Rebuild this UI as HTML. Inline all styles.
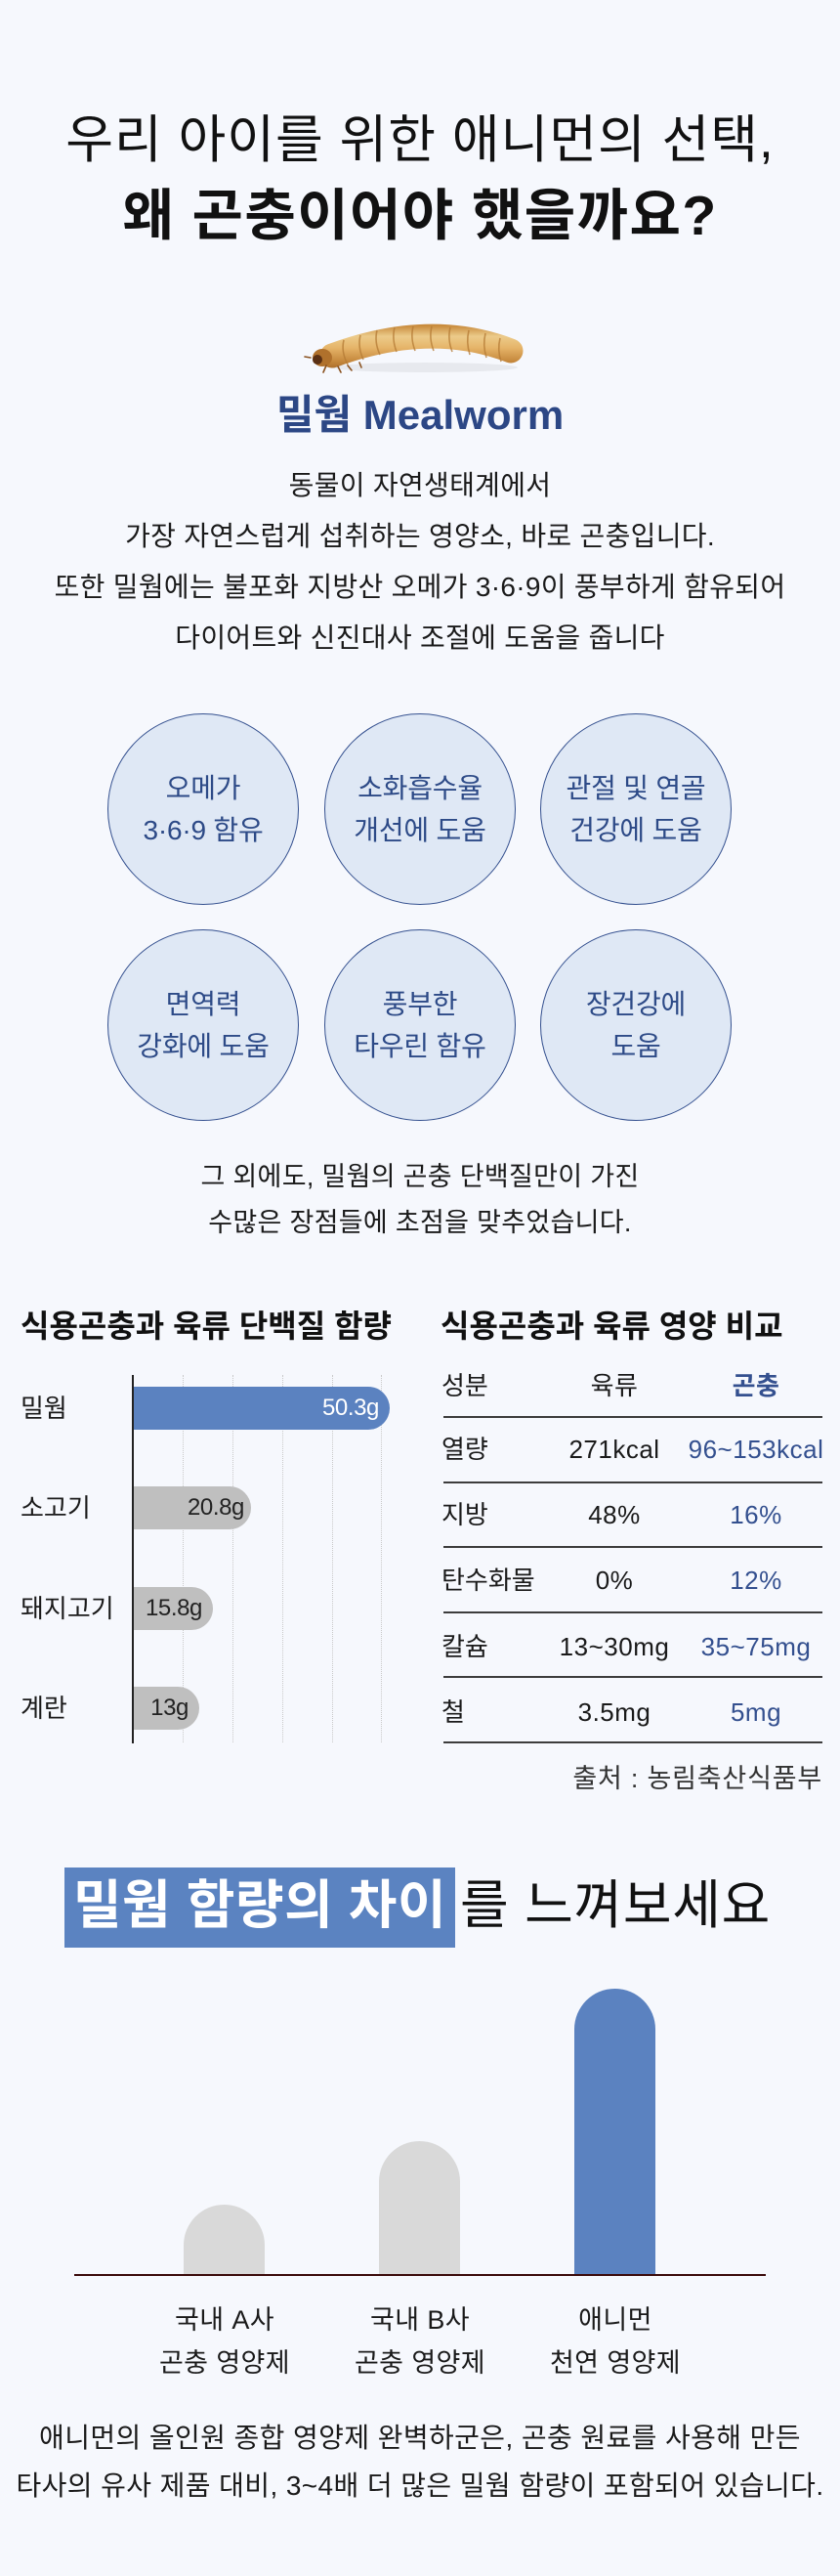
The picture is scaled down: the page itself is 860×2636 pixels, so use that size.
<!DOCTYPE html>
<html lang="ko">
<head>
<meta charset="utf-8">
<style>
*{margin:0;padding:0;box-sizing:border-box;}
html,body{width:860px;height:2636px;background:#f6f8fd;overflow:hidden;}
body{position:relative;font-family:"Liberation Sans","Noto Sans CJK KR",sans-serif;color:#1a1a1a;}
.abs{position:absolute;white-space:nowrap;}
.c{left:0;width:860px;text-align:center;}
.circle{position:absolute;width:196px;height:196px;border-radius:50%;background:#dfe8f5;border:1.3px solid #34508f;display:flex;align-items:center;justify-content:center;text-align:center;color:#2d4a87;font-size:28px;line-height:43px;letter-spacing:-0.2px;}
.grid{position:absolute;top:1407px;height:376px;width:0;border-left:1px dotted #c9c9c9;}
.bar{position:absolute;height:44px;border-radius:0 22px 22px 0;display:flex;align-items:center;justify-content:flex-end;font-size:24px;letter-spacing:-0.4px;}
.rl{position:absolute;left:21px;font-size:26px;line-height:40px;color:#1a1a1a;}
.hl{position:absolute;left:454px;width:388px;height:2px;background:#3d3d3d;}
.t1{position:absolute;left:452px;font-size:26px;line-height:40px;color:#1a1a1a;}
.t2{position:absolute;left:539px;width:180px;text-align:center;font-size:26px;line-height:40px;color:#1a1a1a;letter-spacing:0.5px;}
.t3{position:absolute;left:684px;width:180px;text-align:center;font-size:26px;line-height:40px;color:#34508f;letter-spacing:0.5px;}
.blab{position:absolute;width:220px;text-align:center;font-size:27px;line-height:44px;color:#1a1a1a;letter-spacing:0.4px;}
</style>
</head>
<body>

<!-- Title -->
<div class="abs c" style="top:114px;font-size:53px;line-height:60px;color:#111;letter-spacing:1px;">우리 아이를 위한 애니먼의 선택,</div>
<div class="abs c" style="top:189px;font-size:57px;line-height:64px;font-weight:bold;color:#111;letter-spacing:1.4px;">왜 곤충이어야 했을까요?</div>

<!-- Worm -->
<svg class="abs" style="left:300px;top:320px;" width="260" height="80" viewBox="300 320 260 80">
  <defs>
    <linearGradient id="wg" x1="0" y1="333" x2="0" y2="378" gradientUnits="userSpaceOnUse">
      <stop offset="0" stop-color="#c88a3c"/>
      <stop offset="0.25" stop-color="#eccb8a"/>
      <stop offset="0.5" stop-color="#e6b56a"/>
      <stop offset="0.8" stop-color="#c78a3e"/>
      <stop offset="1" stop-color="#a86a28"/>
    </linearGradient>
  </defs>
  <ellipse cx="435" cy="376" rx="95" ry="5" fill="#000" opacity="0.06"/>
  <path d="M340,364 Q440,327 523,359" fill="none" stroke="url(#wg)" stroke-width="25" stroke-linecap="round"/>
  <g stroke="#b47a34" stroke-width="1.6" fill="none" opacity="0.75">
    <path d="M352,348 Q349,360 356,373"/>
    <path d="M369,343 Q366,355 372,368"/>
    <path d="M386,338 Q383,350 389,363"/>
    <path d="M404,335 Q401,347 406,360"/>
    <path d="M423,334 Q420,346 425,359"/>
    <path d="M442,334 Q439,346 444,359"/>
    <path d="M461,335 Q458,347 463,360"/>
    <path d="M480,338 Q477,350 481,363"/>
    <path d="M497,341 Q494,353 498,366"/>
    <path d="M512,346 Q509,358 513,370"/>
  </g>
  <ellipse cx="330" cy="366" rx="10" ry="9" fill="#b0712c"/>
  <ellipse cx="325" cy="368" rx="5" ry="5" fill="#5a3014"/>
  <g stroke="#8a5220" stroke-width="1.6" stroke-linecap="round">
    <line x1="318" y1="366" x2="312" y2="365"/>
    <line x1="334" y1="374" x2="331" y2="381"/>
    <line x1="346" y1="375" x2="349" y2="381"/>
    <line x1="356" y1="374" x2="360" y2="379"/>
    <line x1="368" y1="371" x2="370" y2="376"/>
  </g>
</svg>

<div class="abs c" style="top:400px;left:0;font-size:42px;line-height:50px;font-weight:bold;color:#2c4785;letter-spacing:0px;">밀웜 Mealworm</div>

<!-- Paragraph -->
<div class="abs c" style="top:471px;font-size:28px;line-height:52px;color:#1a1a1a;letter-spacing:0.3px;white-space:normal;">
동물이 자연생태계에서<br>
가장 자연스럽게 섭취하는 영양소, 바로 곤충입니다.<br>
또한 밀웜에는 불포화 지방산 오메가 3·6·9이 풍부하게 함유되어<br>
다이어트와 신진대사 조절에 도움을 줍니다
</div>

<!-- Circles -->
<div class="circle" style="left:110px;top:730px;">오메가<br>3·6·9 함유</div>
<div class="circle" style="left:332px;top:730px;">소화흡수율<br>개선에 도움</div>
<div class="circle" style="left:553px;top:730px;">관절 및 연골<br>건강에 도움</div>
<div class="circle" style="left:110px;top:951px;">면역력<br>강화에 도움</div>
<div class="circle" style="left:332px;top:951px;">풍부한<br>타우린 함유</div>
<div class="circle" style="left:553px;top:951px;">장건강에<br>도움</div>

<div class="abs c" style="top:1181px;font-size:27px;line-height:47px;color:#1a1a1a;letter-spacing:0.3px;white-space:normal;">
그 외에도, 밀웜의 곤충 단백질만이 가진<br>
수많은 장점들에 초점을 맞추었습니다.
</div>

<!-- Left chart -->
<div class="abs" style="left:21px;top:1337px;font-size:32px;line-height:40px;font-weight:bold;color:#111;">식용곤충과 육류 단백질 함량</div>
<div class="grid" style="left:187px;"></div>
<div class="grid" style="left:238px;"></div>
<div class="grid" style="left:289px;"></div>
<div class="grid" style="left:340px;"></div>
<div class="grid" style="left:390px;"></div>

<div class="bar" style="left:136px;top:1419px;width:263px;background:#5b82c0;color:#fff;padding-right:11px;">50.3g</div>
<div class="bar" style="left:136px;top:1521px;width:121px;background:#bfbfbf;color:#222;padding-right:7px;">20.8g</div>
<div class="bar" style="left:136px;top:1624px;width:82px;background:#bfbfbf;color:#222;padding-right:11px;">15.8g</div>
<div class="bar" style="left:136px;top:1726px;width:68px;background:#bfbfbf;color:#222;padding-right:11px;">13g</div>
<div style="position:absolute;left:135px;top:1407px;width:2px;height:377px;background:#222;"></div>

<div class="rl" style="top:1421px;">밀웜</div>
<div class="rl" style="top:1523px;">소고기</div>
<div class="rl" style="top:1626px;">돼지고기</div>
<div class="rl" style="top:1728px;">계란</div>

<!-- Right table -->
<div class="abs" style="left:451px;top:1337px;font-size:32px;line-height:40px;font-weight:bold;color:#111;">식용곤충과 육류 영양 비교</div>
<div class="t1" style="top:1398px;">성분</div>
<div class="t2" style="top:1398px;">육류</div>
<div class="t3" style="top:1398px;font-weight:bold;">곤충</div>
<div class="hl" style="top:1449px;"></div>

<div class="t1" style="top:1463px;">열량</div>
<div class="t2" style="top:1463px;">271kcal</div>
<div class="t3" style="top:1463px;">96~153kcal</div>
<div class="hl" style="top:1516px;"></div>

<div class="t1" style="top:1530px;">지방</div>
<div class="t2" style="top:1530px;">48%</div>
<div class="t3" style="top:1530px;">16%</div>
<div class="hl" style="top:1582px;"></div>

<div class="t1" style="top:1597px;">탄수화물</div>
<div class="t2" style="top:1597px;">0%</div>
<div class="t3" style="top:1597px;">12%</div>
<div class="hl" style="top:1649px;"></div>

<div class="t1" style="top:1665px;">칼슘</div>
<div class="t2" style="top:1665px;">13~30mg</div>
<div class="t3" style="top:1665px;">35~75mg</div>
<div class="hl" style="top:1715px;"></div>

<div class="t1" style="top:1732px;">철</div>
<div class="t2" style="top:1732px;">3.5mg</div>
<div class="t3" style="top:1732px;">5mg</div>
<div class="hl" style="top:1782px;"></div>

<div class="abs" style="right:18px;top:1800px;font-size:27px;line-height:40px;color:#333;letter-spacing:0.8px;">출처 : 농림축산식품부</div>

<!-- Highlight title -->
<div class="abs" style="left:66px;top:1911px;width:400px;height:82px;background:#5b83c1;"></div>
<div class="abs" style="left:66px;top:1915px;width:400px;text-align:center;font-size:54px;line-height:70px;font-weight:bold;color:#fff;letter-spacing:0.5px;">밀웜 함량의 차이</div>
<div class="abs" style="left:471px;top:1915px;font-size:54px;line-height:70px;color:#111;letter-spacing:0.7px;">를 느껴보세요</div>

<!-- Vertical bars -->
<div class="abs" style="left:188px;top:2256px;width:83px;height:72px;background:#d9d9d9;border-radius:41.5px 41.5px 0 0;"></div>
<div class="abs" style="left:388px;top:2191px;width:83px;height:137px;background:#d9d9d9;border-radius:41.5px 41.5px 0 0;"></div>
<div class="abs" style="left:588px;top:2035px;width:83px;height:293px;background:#5b82c0;border-radius:41.5px 41.5px 0 0;"></div>
<div class="abs" style="left:76px;top:2327px;width:708px;height:2px;background:#3b0b0b;"></div>

<div class="blab" style="left:120px;top:2352px;">국내 A사<br>곤충 영양제</div>
<div class="blab" style="left:320px;top:2352px;">국내 B사<br>곤충 영양제</div>
<div class="blab" style="left:520px;top:2352px;">애니먼<br>천연 영양제</div>

<div class="abs c" style="top:2470px;font-size:28px;line-height:49px;color:#1a1a1a;letter-spacing:0.4px;white-space:normal;">
애니먼의 올인원 종합 영양제 완벽하군은, 곤충 원료를 사용해 만든<br>
타사의 유사 제품 대비, 3~4배 더 많은 밀웜 함량이 포함되어 있습니다.
</div>

</body>
</html>
